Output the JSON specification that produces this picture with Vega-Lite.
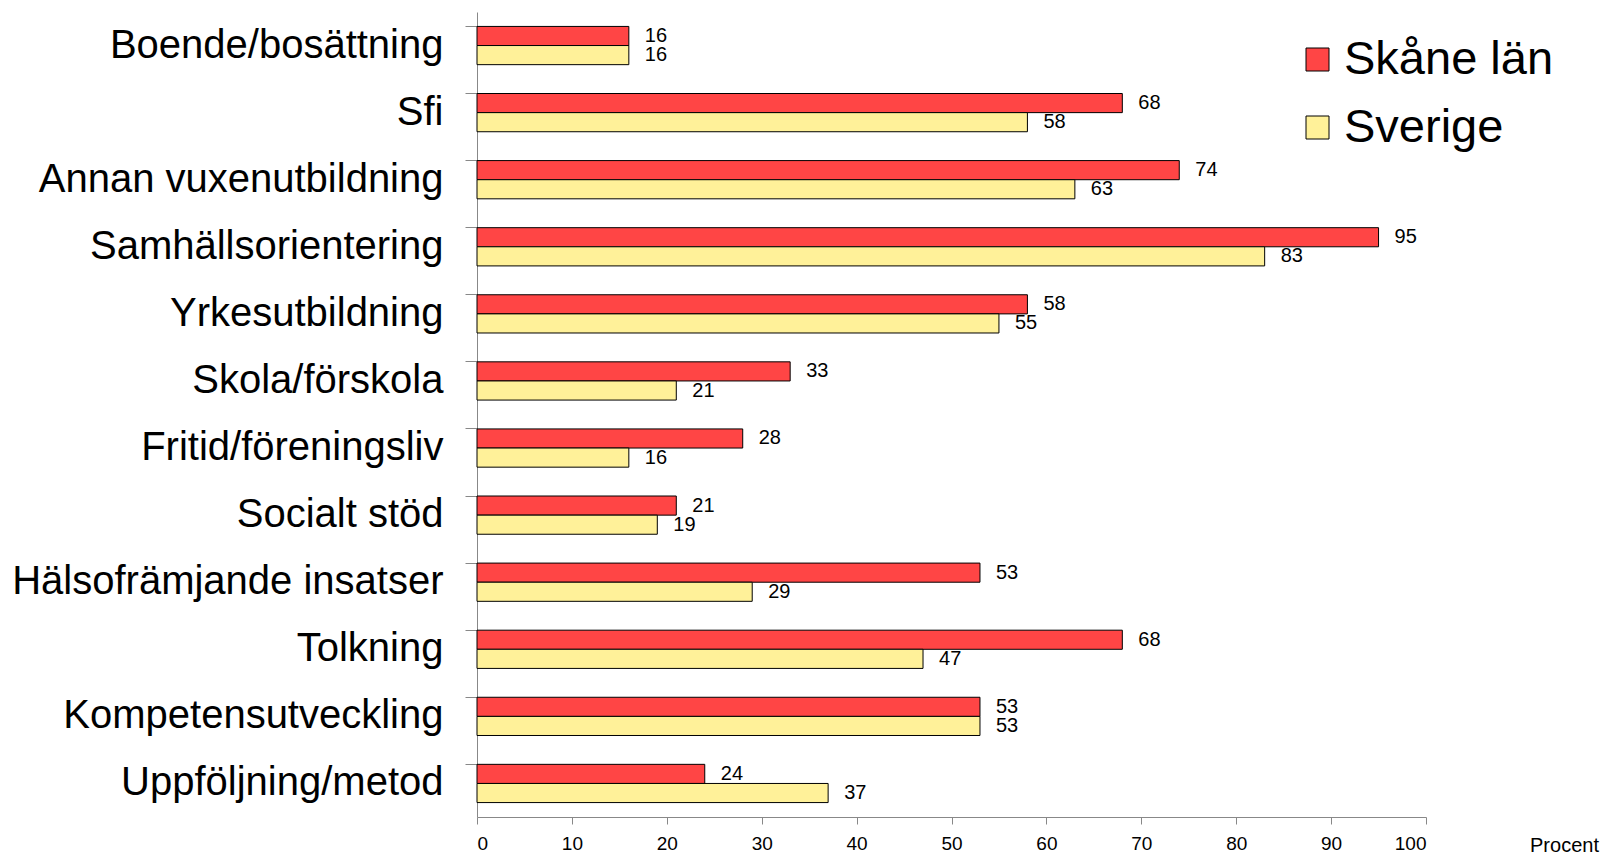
{
  "$schema": "https://vega.github.io/schema/vega-lite/v6.json",
  "width": 949,
  "height": 805,
  "autosize": {"type": "none"},
  "padding": {"left": 477, "top": 12, "right": 185, "bottom": 37},
  "background": "white",
  "config": {
    "font": "Liberation Sans",
    "view": {"stroke": null}
  },
  "data": {
    "values": [
      {"kategori": "Boende/bosättning", "serie": "Skåne län", "procent": 16},
      {"kategori": "Boende/bosättning", "serie": "Sverige", "procent": 16},
      {"kategori": "Sfi", "serie": "Skåne län", "procent": 68},
      {"kategori": "Sfi", "serie": "Sverige", "procent": 58},
      {"kategori": "Annan vuxenutbildning", "serie": "Skåne län", "procent": 74},
      {"kategori": "Annan vuxenutbildning", "serie": "Sverige", "procent": 63},
      {"kategori": "Samhällsorientering", "serie": "Skåne län", "procent": 95},
      {"kategori": "Samhällsorientering", "serie": "Sverige", "procent": 83},
      {"kategori": "Yrkesutbildning", "serie": "Skåne län", "procent": 58},
      {"kategori": "Yrkesutbildning", "serie": "Sverige", "procent": 55},
      {"kategori": "Skola/förskola", "serie": "Skåne län", "procent": 33},
      {"kategori": "Skola/förskola", "serie": "Sverige", "procent": 21},
      {"kategori": "Fritid/föreningsliv", "serie": "Skåne län", "procent": 28},
      {"kategori": "Fritid/föreningsliv", "serie": "Sverige", "procent": 16},
      {"kategori": "Socialt stöd", "serie": "Skåne län", "procent": 21},
      {"kategori": "Socialt stöd", "serie": "Sverige", "procent": 19},
      {"kategori": "Hälsofrämjande insatser", "serie": "Skåne län", "procent": 53},
      {"kategori": "Hälsofrämjande insatser", "serie": "Sverige", "procent": 29},
      {"kategori": "Tolkning", "serie": "Skåne län", "procent": 68},
      {"kategori": "Tolkning", "serie": "Sverige", "procent": 47},
      {"kategori": "Kompetensutveckling", "serie": "Skåne län", "procent": 53},
      {"kategori": "Kompetensutveckling", "serie": "Sverige", "procent": 53},
      {"kategori": "Uppföljning/metod", "serie": "Skåne län", "procent": 24},
      {"kategori": "Uppföljning/metod", "serie": "Sverige", "procent": 37}
    ]
  },
  "encoding": {
    "y": {
      "field": "kategori",
      "type": "nominal",
      "sort": null,
      "scale": {"paddingInner": 0.43, "paddingOuter": 0.215},
      "axis": {
        "title": null,
        "bandPosition": 0,
        "labelFontSize": 40,
        "labelColor": "black",
        "labelPadding": 22,
        "tickSize": 12,
        "tickColor": "#888888",
        "domainColor": "#888888",
        "labelLimit": 700
      }
    },
    "yOffset": {
      "field": "serie",
      "type": "nominal",
      "sort": ["Skåne län", "Sverige"],
      "scale": {"paddingInner": 0, "paddingOuter": 0}
    },
    "x": {
      "field": "procent",
      "type": "quantitative",
      "scale": {"domain": [0, 100], "nice": false},
      "axis": {
        "values": [0, 10, 20, 30, 40, 50, 60, 70, 80, 90, 100],
        "grid": false,
        "title": "Procent",
        "titleFontSize": 20,
        "titleFontWeight": "normal",
        "titleX": 1087,
        "titleY": 28,
        "titleAlign": "center",
        "titleBaseline": "middle",
        "labelFontSize": 19,
        "labelColor": "black",
        "labelPadding": 10,
        "tickSize": 7,
        "tickColor": "#888888",
        "domainColor": "#888888"
      }
    }
  },
  "layer": [
    {
      "mark": {"type": "bar", "stroke": "black", "strokeWidth": 1},
      "encoding": {
        "color": {
          "field": "serie",
          "type": "nominal",
          "sort": ["Skåne län", "Sverige"],
          "scale": {"domain": ["Skåne län", "Sverige"], "range": ["#ff4545", "#fff199"]},
          "legend": {
            "title": null,
            "orient": "none",
            "legendX": 817,
            "legendY": 24,
            "symbolType": "square",
            "symbolSize": 529,
            "symbolStrokeColor": "black",
            "symbolStrokeWidth": 1,
            "labelFontSize": 47,
            "labelColor": "black",
            "labelOffset": 3,
            "labelLimit": 400,
            "rowPadding": 20
          }
        }
      }
    },
    {
      "mark": {"type": "text", "align": "left", "baseline": "middle", "dx": 16, "fontSize": 20, "color": "black"},
      "encoding": {
        "text": {"field": "procent", "type": "quantitative"}
      }
    }
  ]
}
